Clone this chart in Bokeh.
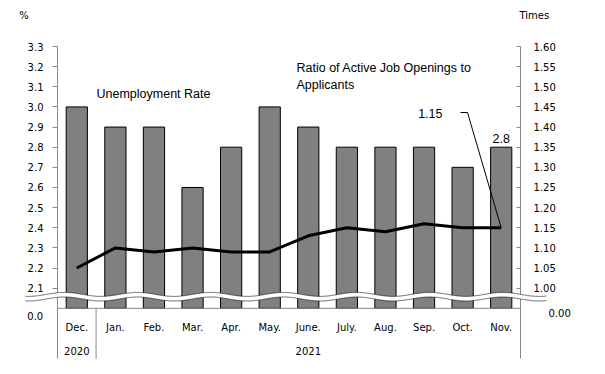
import numpy as np
from bokeh.plotting import figure
from bokeh.models import (Range1d, LinearAxis, FixedTicker, PrintfTickFormatter,
                          Label, PolyAnnotation)
from bokeh.embed import file_html
from bokeh.resources import INLINE
from bokeh.core.properties import value

# ---------------- data ----------------
months = ["Dec.", "Jan.", "Feb.", "Mar.", "Apr.", "May.", "June.",
          "July.", "Aug.", "Sep.", "Oct.", "Nov."]
years = ["2020", "2021"]
months_per_year = [1, 11]
unemployment = [3.0, 2.9, 2.9, 2.6, 2.8, 3.0, 2.9, 2.8, 2.8, 2.8, 2.7, 2.8]
job_ratio = [1.05, 1.10, 1.09, 1.10, 1.09, 1.09, 1.13, 1.15, 1.14, 1.16, 1.15, 1.15]
left_ticks = [2.1, 2.2, 2.3, 2.4, 2.5, 2.6, 2.7, 2.8, 2.9, 3.0, 3.1, 3.2, 3.3]
right_ticks = [1.00, 1.05, 1.10, 1.15, 1.20, 1.25, 1.30, 1.35, 1.40, 1.45,
               1.50, 1.55, 1.60]
left_break, right_break = 2.0, 0.95   # values drawn at the broken baseline ("0.0")

# ---------------- geometry (page pixels) ----------------
W, H = 605, 374
FL, FT, FR, FB = 57, 46, 520, 358.3     # plot area in page pixels
n = len(months)
PX_PER_UNIT_X = (FR - FL) / n
PX_PER_TENTH = 20.14
y_top, r_top = 3.3, 1.60


def dx(px):
    return (px - FL) / PX_PER_UNIT_X


def dy(py):
    return y_top - (py - FT) * 0.1 / PX_PER_TENTH


def ry(py):
    return r_top - (py - FT) * 0.05 / PX_PER_TENTH


FONT = "DejaVu Sans"
ANN_FONT = "Liberation Sans"
ANN_SIZE = "12.5px"
AXIS_GRAY = "#888888"

p = figure(frame_width=W, frame_height=H,
           min_border_left=0, min_border_top=0, min_border_right=0, min_border_bottom=0,
           x_range=Range1d(dx(0), dx(W)), y_range=Range1d(dy(H), dy(0)),
           x_axis_location=None, y_axis_location=None,
           output_backend="svg", toolbar_location=None)
p.extra_y_ranges = {"right": Range1d(ry(H), ry(0))}
p.outline_line_color = None
p.grid.visible = False
p.background_fill_color = "white"
p.border_fill_color = "white"

left = LinearAxis(ticker=FixedTicker(ticks=left_ticks), fixed_location=0,
                  bounds=(dy(FB), y_top),
                  formatter=PrintfTickFormatter(format="%.1f"))
right = LinearAxis(y_range_name="right", ticker=FixedTicker(ticks=right_ticks),
                   fixed_location=n, bounds=(ry(FB), r_top),
                   formatter=PrintfTickFormatter(format="%.2f"))
for ax in (left, right):
    ax.axis_line_color = AXIS_GRAY
    ax.major_tick_line_color = AXIS_GRAY
    ax.minor_tick_line_color = None
    ax.major_label_text_font = FONT
    ax.major_label_text_font_size = "10px"
    ax.major_label_text_color = "black"
left.major_tick_out, left.major_tick_in, left.major_label_standoff = 5, 0, 9
right.major_tick_out, right.major_tick_in, right.major_label_standoff = 0, 4, 13
p.add_layout(left, "left")
p.add_layout(right, "right")

xc = [i + 0.5 for i in range(n)]

# bars
p.vbar(x=xc, top=unemployment, bottom=left_break, width=0.55,
       fill_color="#808080", line_color="black", line_width=1)

# baseline axis line & category separators
p.segment(x0=[0], y0=[left_break], x1=[n], y1=[left_break],
          line_color=AXIS_GRAY, line_width=1)
bounds = list(np.cumsum(months_per_year))[:-1]
p.segment(x0=bounds, y0=[left_break] * len(bounds), x1=bounds,
          y1=[dy(FB)] * len(bounds), line_color=AXIS_GRAY, line_width=1)

# category labels
p.text(x=xc, y=[dy(327)] * n, text=months, text_font=value(FONT),
       text_font_size="10px", text_align="center", text_baseline="middle",
       text_color="black")
starts = np.concatenate([[0], np.cumsum(months_per_year)[:-1]])
ycent = [s + m / 2 for s, m in zip(starts, months_per_year)]
p.text(x=ycent, y=[dy(350)] * len(years), text=years, text_font=value(FONT),
       text_font_size="10px", text_align="center", text_baseline="middle",
       text_color="black")

# axis-break wave (decoration)
wx = np.arange(25, 547, 1.0)
wc = 296.2 - 2.0 * np.cos(2 * np.pi * (wx - 137) / 73.0)
top_line = [dy(v) for v in wc - 2.3]
bot_line = [dy(v) for v in wc + 2.3]
wxl = [dx(v) for v in wx]
p.add_layout(PolyAnnotation(xs=wxl + wxl[::-1], ys=top_line + bot_line[::-1],
                            fill_color="white", fill_alpha=1, line_color=None))
for ln in (top_line, bot_line):
    p.add_layout(PolyAnnotation(xs=wxl + wxl[::-1], ys=ln + ln[::-1],
                                fill_color=None, line_color="black", line_width=1))

# ratio line
p.line(x=xc, y=job_ratio, y_range_name="right", line_color="black",
       line_width=3, line_join="round")

# leader for 1.15
p.line(x=[dx(460), dx(467), xc[-1]], y=[ry(112), ry(112), job_ratio[-1]],
       y_range_name="right", line_color="black", line_width=1)


def lab(x, y, text, align="left", font=FONT, size="10px", y_range="default"):
    p.add_layout(Label(x=x, y=y, text=text, text_align=align,
                       text_baseline="middle", text_font=font,
                       text_font_size=size, text_color="black",
                       y_range_name=y_range))


lab(dx(442), ry(113), f"{job_ratio[-1]:.2f}", align="right", font=ANN_FONT, size=ANN_SIZE, y_range="right")
lab(xc[-1], dy(138), f"{unemployment[-1]:.1f}", align="center", font=ANN_FONT, size=ANN_SIZE)
lab(dx(96), dy(93), "Unemployment Rate", font=ANN_FONT, size=ANN_SIZE)
lab(dx(296), dy(67), "Ratio of Active Job Openings to", font=ANN_FONT, size=ANN_SIZE)
lab(dx(296), dy(84), "Applicants", font=ANN_FONT, size=ANN_SIZE)
lab(dx(23.5), dy(15), "%", align="center")
lab(dx(519), dy(15), "Times")
lab(dx(42.7), dy(315), f"{0:.1f}", align="right")
lab(dx(548), dy(312), f"{0:.2f}")

open("out.html", "w").write(file_html(p, INLINE))
